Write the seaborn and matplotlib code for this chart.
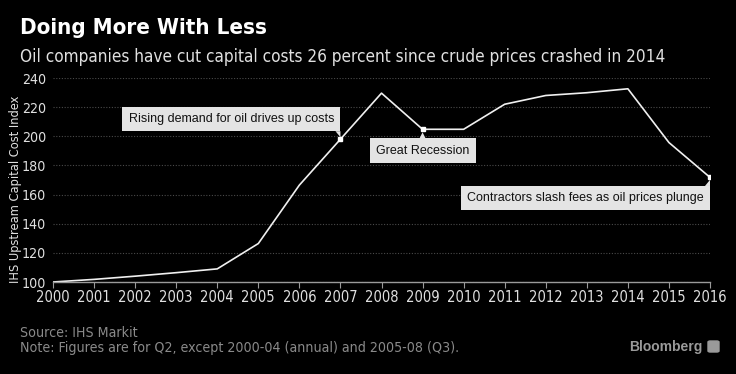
import matplotlib
matplotlib.use("Agg")
import matplotlib.pyplot as plt
import matplotlib.font_manager as fm
import matplotlib.transforms as mtransforms
from matplotlib.patches import Polygon, FancyBboxPatch
import seaborn as sns
import pandas as pd

years = list(range(2000, 2017))
index_values = [100, 101.8, 104, 106.4, 109, 126.4, 166.5, 198, 229.6, 204.8,
                204.8, 222, 228, 229.9, 232.6, 195.7, 171.8]
y_ticks = [100, 120, 140, 160, 180, 200, 220, 240]

notes_year = [2007, 2009, 2016]
notes_text = ["Rising demand for oil drives up costs", "Great Recession",
              "Contractors slash fees as oil prices plunge"]

title = "Doing More With Less"
subtitle = "Oil companies have cut capital costs 26 percent since crude prices crashed in 2014"
ylabel = "IHS Upstream Capital Cost Index"
source = "Source: IHS Markit"
note_line = "Note: Figures are for Q2, except 2000-04 (annual) and 2005-08 (Q3)."

df = pd.DataFrame({"year": years, "value": index_values})

sns.set_style("dark", {"axes.facecolor": "black", "figure.facecolor": "black"})
names = {f.name for f in fm.fontManager.ttflist}
narrow = "Liberation Sans Narrow" if "Liberation Sans Narrow" in names else "DejaVu Sans"
narrow_stretch = "normal" if narrow == "Liberation Sans Narrow" else "condensed"
plt.rcParams["font.family"] = [narrow, "DejaVu Sans"]
plt.rcParams["font.stretch"] = narrow_stretch

W, H = 736, 374
fig = plt.figure(figsize=(W / 100, H / 100), dpi=100, facecolor="black")
ax = fig.add_axes([53 / W, 1 - 282 / H, (710 - 53) / W, (282 - 78) / H])
ax.set_facecolor("black")

sns.lineplot(data=df, x="year", y="value", ax=ax, color="#f0f0f0", linewidth=1.2)

ax.set_xlim(2000, 2016)
ax.set_ylim(100, 240)
ax.set_xticks(years)
ax.set_yticks(y_ticks)
ax.set_xticklabels([str(y) for y in years])
for s in ["top", "right", "left"]:
    ax.spines[s].set_visible(False)
ax.spines["bottom"].set_color("#9a9a9a")
ax.spines["bottom"].set_linewidth(1.0)
ax.tick_params(axis="x", colors="#9a9a9a", length=4, width=0.8, labelsize=10.5,
               labelcolor="#e0e0e0", pad=2, direction="out", bottom=True)
ax.tick_params(axis="y", length=0, labelsize=10.2, labelcolor="#e0e0e0", pad=5, left=False)
ax.grid(axis="y", color="#4a4a4a", linestyle=(0, (1, 1.5)), linewidth=0.8)
ax.grid(axis="x", visible=False)
ax.set_xlabel("")
ax.set_ylabel("")
fig.text(16 / W, 1 - 189 / H, ylabel, color="#e0e0e0", fontsize=9.2, rotation=90,
         ha="center", va="center")

# annotation points
note_vals = [index_values[years.index(y)] for y in notes_year]
ax.plot(notes_year, note_vals, linestyle="none", marker="s", markersize=3,
        color="white", zorder=7)

px = 0.72
pad_px = 6.25
box_col = "#e4e4e4"
box_kw = dict(boxstyle="square,pad=0.5", fc=box_col, ec="none")
# offsets in pixels relative to the data point (y up)
specs = [
    dict(dx=-pad_px, dy=8 + pad_px, ha="right", va="bottom",
         tri=[(0, 8), (-5, 8), (0, 2)]),
    dict(dx=0, dy=-(9 + pad_px), ha="center", va="top",
         tri=[(-3, -9), (3, -9), (0, -3)]),
    dict(dx=-pad_px, dy=-(8.6 + pad_px), ha="right", va="top",
         tri=[(0, -8.6), (-5, -8.6), (0, -2.5)]),
]
for yr, val, txt, sp in zip(notes_year, note_vals, notes_text, specs):
    ax.annotate(txt, xy=(yr, val), xytext=(sp["dx"] * px, sp["dy"] * px),
                textcoords="offset points", ha=sp["ha"], va=sp["va"],
                fontsize=9, family=["Liberation Sans", "DejaVu Sans"], stretch="normal",
                color="#111111", bbox=box_kw, zorder=6, annotation_clip=False)
    tr = fig.dpi_scale_trans + mtransforms.ScaledTranslation(yr, val, ax.transData)
    poly = Polygon([(a / 100, b / 100) for a, b in sp["tri"]], closed=True,
                   fc=box_col, ec="none", transform=tr, zorder=6, clip_on=False)
    ax.add_patch(poly)

# titles
fig.text(20 / W, 1 - 34 / H, title, color="white", fontsize=16, fontweight="bold",
         family=["DejaVu Sans"], stretch="condensed", va="baseline", ha="left")
fig.text(20 / W, 1 - 62 / H, subtitle, color="#e0e0e0", fontsize=12.3,
         va="baseline", ha="left")
fig.text(20 / W, 1 - 337 / H, source, color="#8a8a8a", fontsize=10.2, va="baseline")
fig.text(20 / W, 1 - 352 / H, note_line, color="#8a8a8a", fontsize=10.2, va="baseline")
fig.text(702 / W, 1 - 351 / H, "Bloomberg", color="#9a9a9a", fontsize=10,
         fontweight="bold", family=["Liberation Sans", "DejaVu Sans"], stretch="normal",
         ha="right", va="baseline")
fig.patches.append(FancyBboxPatch((708 / W, 1 - 352 / H), 11 / W, 11 / H,
                                  boxstyle="round,pad=0,rounding_size=0.003",
                                  transform=fig.transFigure, color="#9a9a9a"))

fig.savefig("out.png", dpi=100, facecolor="black")
